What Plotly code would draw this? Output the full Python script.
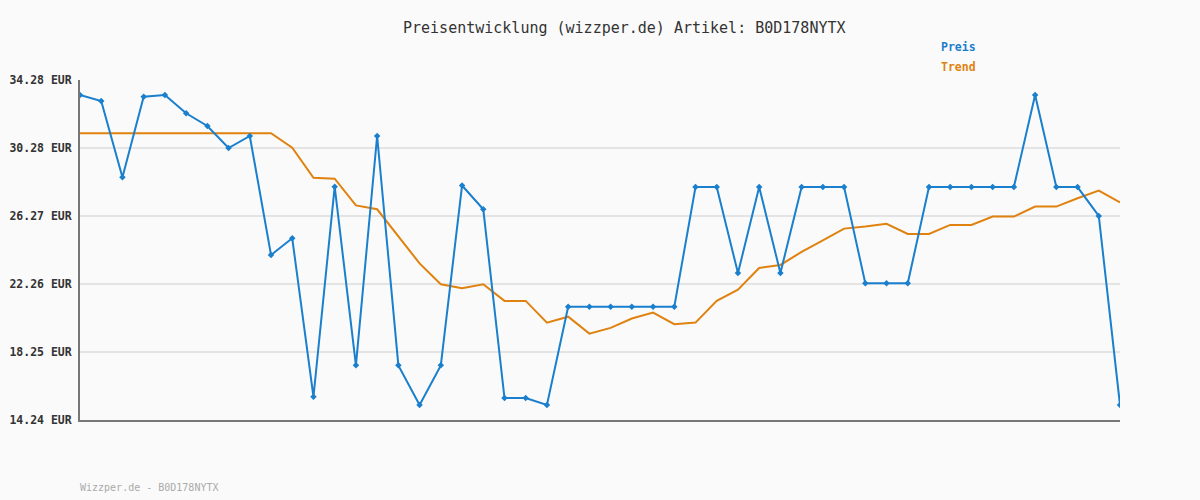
import plotly.graph_objects as go

x_idx = list(range(50))
preis = [33.40, 33.04, 28.55, 33.30, 33.40, 32.32, 31.57, 30.27, 30.98, 23.97,
         24.95, 15.61, 27.99, 17.46, 30.98, 17.46, 15.12, 17.46, 28.06, 26.66,
         15.53, 15.53, 15.12, 20.92, 20.92, 20.92, 20.92, 20.92, 20.92, 27.97,
         27.97, 22.90, 27.97, 22.90, 27.97, 27.97, 27.97, 22.30, 22.30, 22.30,
         27.97, 27.97, 27.97, 27.97, 27.97, 33.40, 27.97, 27.97, 26.27, 15.12]
trend = [31.14, 31.14, 31.14, 31.14, 31.14, 31.14, 31.14, 31.14, 31.14, 31.14,
         30.29, 28.52, 28.46, 26.89, 26.66, 25.06, 23.47, 22.24, 22.00, 22.24,
         21.26, 21.26, 19.98, 20.33, 19.33, 19.67, 20.22, 20.57, 19.89, 19.98,
         21.26, 21.92, 23.20, 23.38, 24.15, 24.83, 25.52, 25.64, 25.80, 25.21,
         25.21, 25.74, 25.74, 26.23, 26.23, 26.82, 26.82, 27.31, 27.76, 27.06]
tick_vals = [14.24, 18.25, 22.26, 26.27, 30.28, 34.28]
tick_text = ["14.24 EUR", "18.25 EUR", "22.26 EUR", "26.27 EUR", "30.28 EUR", "34.28 EUR"]

BLUE = "#1a7fcc"
ORANGE = "#e0820f"
FONT = "DejaVu Sans Mono"

fig = go.Figure()
fig.add_trace(go.Scatter(x=x_idx, y=trend, mode="lines", name="Trend",
                         line=dict(color=ORANGE, width=2), hoverinfo="skip"))
fig.add_trace(go.Scatter(x=x_idx, y=preis, mode="lines+markers", name="Preis",
                         line=dict(color=BLUE, width=2),
                         marker=dict(symbol="diamond", size=5, color=BLUE)))

fig.update_layout(
    width=1200, height=500,
    margin=dict(l=80, r=80, t=80, b=80),
    paper_bgcolor="#fafafa", plot_bgcolor="#fafafa",
    showlegend=False,
    font=dict(family=FONT, color="#333333"),
    xaxis=dict(range=[0, 49], showgrid=False, showticklabels=False, zeroline=False,
               showline=True, linecolor="#777777", linewidth=2, ticks="",
               automargin=False),
    yaxis=dict(range=[14.24, 34.28], tickvals=tick_vals, ticktext=tick_text,
               showgrid=True, gridcolor="#e4e4e4", gridwidth=2, zeroline=False,
               showline=True, linecolor="#777777", linewidth=2,
               tickfont=dict(family=FONT, size=11.5, color="#333333", weight="bold"),
               ticks="", ticklabelstandoff=4, automargin=False),
    annotations=[
        dict(text="Preisentwicklung (wizzper.de) Artikel: B0D178NYTX",
             xref="paper", yref="paper", x=(624 - 80) / 1040, y=1 + (80 - 28) / 340,
             xanchor="center", yanchor="middle", showarrow=False,
             font=dict(family=FONT, size=15, color="#333333")),
        dict(text="<b>Preis</b>", xref="paper", yref="paper",
             x=(939 - 80) / 1040, y=1 + (80 - 47) / 340, xanchor="left", yanchor="middle",
             showarrow=False, font=dict(family=FONT, size=11.5, color=BLUE)),
        dict(text="<b>Trend</b>", xref="paper", yref="paper",
             x=(939 - 80) / 1040, y=1 + (80 - 67) / 340, xanchor="left", yanchor="middle",
             showarrow=False, font=dict(family=FONT, size=11.5, color=ORANGE)),
        dict(text="Wizzper.de - B0D178NYTX", xref="paper", yref="paper",
             x=-2 / 1040, y=-(487 - 420) / 340, xanchor="left", yanchor="middle",
             showarrow=False, font=dict(family=FONT, size=10, color="#aaaaaa")),
    ],
)

fig.write_html("out.html")
